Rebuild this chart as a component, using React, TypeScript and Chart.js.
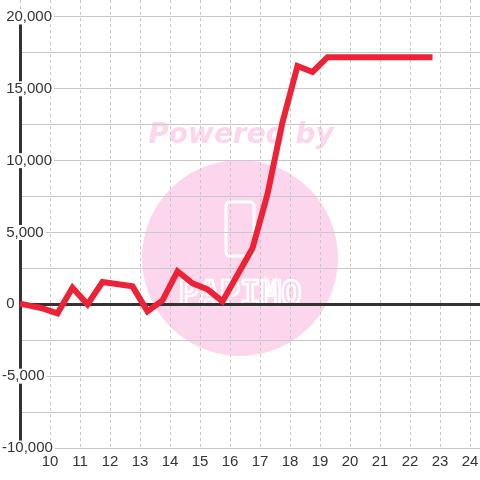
import React, { useEffect, useRef } from 'react';
import { Chart, registerables } from 'chart.js';

Chart.register(...registerables);

// Hour of day for each sample
const hours = [9, 9.75, 10.25, 10.75, 11.25, 11.75, 12.75, 13.25, 13.75, 14.25, 14.75, 15.25, 15.75, 16.75, 17.25, 17.75, 18.25, 18.75, 19.25, 22.75];
// Coin difference
const balance = [50, -280, -630, 1150, 0, 1550, 1250, -490, 280, 2300, 1460, 1045, 200, 3900, 7670, 12680, 16590, 16170, 17200, 17200];

const xTicks = [9, 10, 11, 12, 13, 14, 15, 16, 17, 18, 19, 20, 21, 22, 23, 24];
const xTickLabels = ['', '10', '11', '12', '13', '14', '15', '16', '17', '18', '19', '20', '21', '22', '23', '24'];
const yTicks = [-10000, -7500, -5000, -2500, 0, 2500, 5000, 7500, 10000, 12500, 15000, 17500, 20000];
const yTickLabels = ['-10,000', '', '-5,000', '', ' 0', '', ' 5,000', '', ' 10,000', '', ' 15,000', '', ' 20,000'];

const FONT = '"Liberation Sans", Arial, sans-serif';
const PINK = '#fcd6ec';

const watermark = {
  id: 'watermark',
  beforeDraw(chart: any) {
    const ctx = chart.ctx;
    ctx.save();
    ctx.fillStyle = '#ffffff';
    ctx.fillRect(0, 0, chart.width, chart.height);
    ctx.fillStyle = PINK;
    ctx.beginPath();
    ctx.arc(240, 258, 98, 0, Math.PI * 2);
    ctx.fill();
    ctx.font = 'italic bold 28px "DejaVu Sans"';
    ctx.textAlign = 'center';
    ctx.textBaseline = 'alphabetic';
    ctx.fillText('Powered by', 241, 143);
    ctx.strokeStyle = '#ffffff';
    ctx.lineWidth = 3;
    ctx.beginPath();
    if (ctx.roundRect) ctx.roundRect(226, 202, 28, 54, 4); else ctx.rect(226, 202, 28, 54);
    ctx.stroke();
    ctx.lineWidth = 2.5;
    ctx.font = 'bold 34px "DejaVu Sans Mono"';
    ctx.strokeText('PAPIMO', 240, 305);
    ctx.restore();
  },
};

const axisLine = {
  id: 'axisLine',
  beforeDatasetsDraw(chart: any) {
    const { ctx, chartArea, scales } = chart;
    const y = scales.y;
    ctx.save();
    ctx.strokeStyle = '#333333';
    ctx.lineWidth = 3;
    ctx.beginPath();
    ctx.moveTo(chartArea.left + 0.5, y.getPixelForValue(yTicks[yTicks.length - 1]));
    ctx.lineTo(chartArea.left + 0.5, y.getPixelForValue(yTicks[0]));
    ctx.stroke();
    ctx.restore();
  },
};

export default function App() {
  const ref = useRef<HTMLCanvasElement | null>(null);
  useEffect(() => {
    if (!ref.current) return;
    const chart = new Chart(ref.current, {
      type: 'line',
      data: {
        datasets: [
          {
            data: hours.map((h, i) => ({ x: h, y: balance[i] })),
            borderColor: '#ee2236',
            borderWidth: 6,
            pointRadius: 0,
            tension: 0,
            fill: false,
            borderJoinStyle: 'miter',
            clip: false as any,
          },
        ],
      },
      options: {
        animation: false,
        responsive: false,
        layout: { padding: { left: 2, top: 0, right: 0, bottom: 0 } },
        plugins: { legend: { display: false }, tooltip: { enabled: false } },
        scales: {
          x: {
            type: 'linear',
            min: 9,
            max: 24.333,
            afterBuildTicks: (s: any) => {
              s.ticks = xTicks.map((v) => ({ value: v }));
            },
            afterFit: (s: any) => {
              s.height = 32;
              s.paddingLeft = 0;
              s.paddingRight = 0;
            },
            ticks: {
              autoSkip: false,
              maxRotation: 0,
              padding: 5,
              color: '#333333',
              font: { family: FONT, size: 15 },
              callback: (v: any) => {
                const i = xTicks.indexOf(Number(v));
                return i >= 0 ? xTickLabels[i] : '';
              },
            },
            grid: { color: '#c8c8c8', lineWidth: 1, drawTicks: false },
            border: { display: false, dash: [3, 3] },
          },
          y: {
            type: 'linear',
            min: -10000,
            max: 21180,
            afterBuildTicks: (s: any) => {
              s.ticks = yTicks.map((v) => ({ value: v }));
            },
            afterFit: (s: any) => {
              s.width = 18;
              s.paddingTop = 0;
              s.paddingBottom = 0;
            },
            ticks: {
              mirror: true,
              crossAlign: 'near',
              padding: -18,
              z: 1,
              color: '#333333',
              font: { family: FONT, size: 15, lineHeight: 1 },
              showLabelBackdrop: true,
              backdropColor: (c: any) => {
                const i = yTicks.indexOf(c.tick ? c.tick.value : NaN);
                return i >= 0 && yTickLabels[i] !== '' ? '#ffffff' : 'rgba(0,0,0,0)';
              },
              backdropPadding: { x: 2, y: 0 },
              callback: (v: any) => {
                const i = yTicks.indexOf(Number(v));
                return i >= 0 ? yTickLabels[i] : '';
              },
            },
            grid: {
              color: (c: any) => (c.tick && c.tick.value === 0 ? '#333333' : '#c8c8c8'),
              lineWidth: (c: any) => (c.tick && c.tick.value === 0 ? 3 : 1),
              drawTicks: false,
            },
            border: { display: false },
          },
        },
      } as any,
      plugins: [watermark, axisLine],
    });
    return () => chart.destroy();
  }, []);
  return (
    <div style={{ position: 'fixed', left: 0, top: 0, width: 480, height: 480 }}>
      <canvas ref={ref} width={480} height={480} style={{ display: 'block' }} />
    </div>
  );
}
